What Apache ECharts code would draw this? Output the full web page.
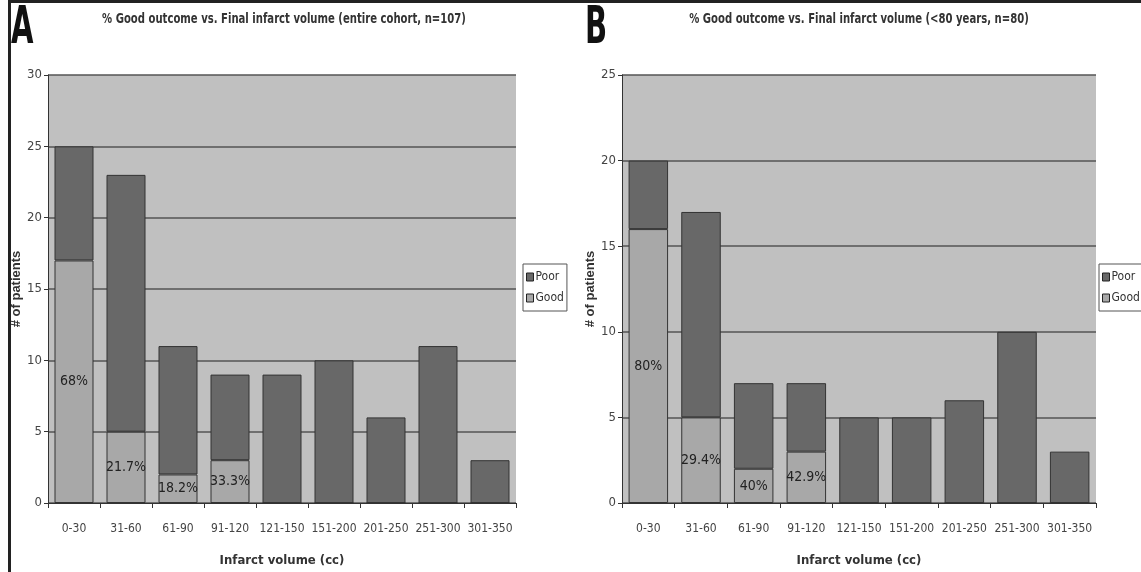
<!DOCTYPE html>
<html>
<head>
<meta charset="utf-8">
<script src="https://cdn.jsdelivr.net/npm/echarts@6/dist/echarts.min.js"></script>
<style>
html,body{margin:0;padding:0;background:#fff;}
#c{width:1141px;height:572px;}
</style>
</head>
<body>
<div id="c"></div>
<script>
// ---- data ----
var categories = ['0-30','31-60','61-90','91-120','121-150','151-200','201-250','251-300','301-350'];
// Panel A: entire cohort, n=107
var goodA = [17, 5, 2, 3, 0, 0, 0, 0, 0];
var poorA = [8, 18, 9, 6, 9, 10, 6, 11, 3];
var pctA  = ['68%', '21.7%', '18.2%', '33.3%', '', '', '', '', ''];
// Panel B: <80 years, n=80
var goodB = [16, 5, 2, 3, 0, 0, 0, 0, 0];
var poorB = [4, 12, 5, 4, 5, 5, 6, 10, 3];
var pctB  = ['80%', '29.4%', '40%', '42.9%', '', '', '', '', ''];
var yTicksA = {min: 0, max: 30, interval: 5};
var yTicksB = {min: 0, max: 25, interval: 5};
var titleA = '% Good outcome vs. Final infarct volume (entire cohort, n=107)';
var titleB = '% Good outcome vs. Final infarct volume (<80 years, n=80)';

var FONT = '"DejaVu Sans Condensed", "Liberation Sans Narrow", "Liberation Sans", Arial, sans-serif';
var cPoor = '#686868', cGood = '#a8a8a8';

function xAxisCfg(gi){
  return {
    type:'category', gridIndex:gi, data:categories,
    name:'Infarct volume (cc)', nameLocation:'middle', nameGap:51,
    nameTextStyle:{fontFamily:FONT, fontSize:13, fontWeight:'bold', color:'#333'},
    axisLine:{lineStyle:{color:'#333', width:1}},
    axisTick:{show:true, length:5, lineStyle:{color:'#333'}},
    axisLabel:{interval:0, fontFamily:FONT, fontSize:12, color:'#444', margin:20}
  };
}
function yAxisCfg(gi, t){
  return {
    type:'value', gridIndex:gi, min:t.min, max:t.max, interval:t.interval,
    name:'# of patients', nameLocation:'middle', nameGap:24,
    nameTextStyle:{fontFamily:'"Liberation Sans", Arial, sans-serif', fontSize:13, fontWeight:'bold', color:'#333'},
    axisLine:{show:true, lineStyle:{color:'#333', width:1}},
    axisTick:{show:true, length:4, lineStyle:{color:'#333'}},
    axisLabel:{fontFamily:FONT, fontSize:13, color:'#444', margin:6},
    splitLine:{show:true, lineStyle:{color:'#555', width:1.5}}
  };
}
function goodSeries(gi, vals, pcts, stack){
  return {
    name:'Good', type:'bar', stack:stack, xAxisIndex:gi, yAxisIndex:gi,
    barCategoryGap:'25%', data:vals,
    itemStyle:{color:cGood, borderColor:'#333', borderWidth:1},
    label:{show:true, position:'inside', fontFamily:FONT, fontSize:14, color:'#222',
      formatter:function(p){ return pcts[p.dataIndex] || ''; }}
  };
}
function poorSeries(gi, vals, stack){
  return {
    name:'Poor', type:'bar', stack:stack, xAxisIndex:gi, yAxisIndex:gi,
    barCategoryGap:'25%', data:vals,
    itemStyle:{color:cPoor, borderColor:'#333', borderWidth:1}
  };
}
function legendCfg(left){
  return {
    left:left, top:264, orient:'vertical', data:['Poor','Good'],
    itemWidth:7, itemHeight:8, itemGap:9, padding:[7,3,7,3],
    borderColor:'#555', borderWidth:1, backgroundColor:'#fff',
    icon:'rect',
    itemStyle:{borderColor:'#222', borderWidth:1},
    textStyle:{fontFamily:FONT, fontSize:12, color:'#333', padding:[0,0,0,-3]}
  };
}
function panelLetter(ch, x){
  return {type:'text', x:x, y:3, scaleX:0.62, scaleY:1,
    style:{text:ch, font:'bold 52px "DejaVu Sans Condensed", "Liberation Sans", sans-serif', fill:'#111', verticalAlign:'top'}};
}
function panelTitle(txt, cx){
  return {type:'text', x:cx, y:12, scaleX:0.8, scaleY:1,
    style:{text:txt, font:'bold 14px "DejaVu Sans Condensed", "Liberation Sans", sans-serif', fill:'#333', align:'center', verticalAlign:'top'}};
}

var chart = echarts.init(document.getElementById('c'), null, {renderer:'canvas'});
chart.setOption({
  animation:false,
  backgroundColor:'#fff',
  legend:[legendCfg(523), legendCfg(1099)],
  grid:[
    {left:48, top:75, width:468, height:428, show:true, backgroundColor:'#c0c0c0', borderWidth:0},
    {left:622, top:75, width:474, height:432, show:true, backgroundColor:'#c0c0c0', borderWidth:0}
  ],
  xAxis:[xAxisCfg(0), xAxisCfg(1)],
  yAxis:[yAxisCfg(0, yTicksA), yAxisCfg(1, yTicksB)],
  series:[
    goodSeries(0, goodA, pctA, 'a'), poorSeries(0, poorA, 'a'),
    goodSeries(1, goodB, pctB, 'b'), poorSeries(1, poorB, 'b')
  ],
  graphic:[
    {type:'line', shape:{x1:9, y1:1.5, x2:1141, y2:1.5}, style:{stroke:'#222', lineWidth:3}},
    {type:'line', shape:{x1:9.5, y1:0, x2:9.5, y2:572}, style:{stroke:'#222', lineWidth:3}},
    panelLetter('A', 11),
    panelLetter('B', 585),
    panelTitle(titleA, 284),
    panelTitle(titleB, 859)
  ]
});
</script>
</body>
</html>
